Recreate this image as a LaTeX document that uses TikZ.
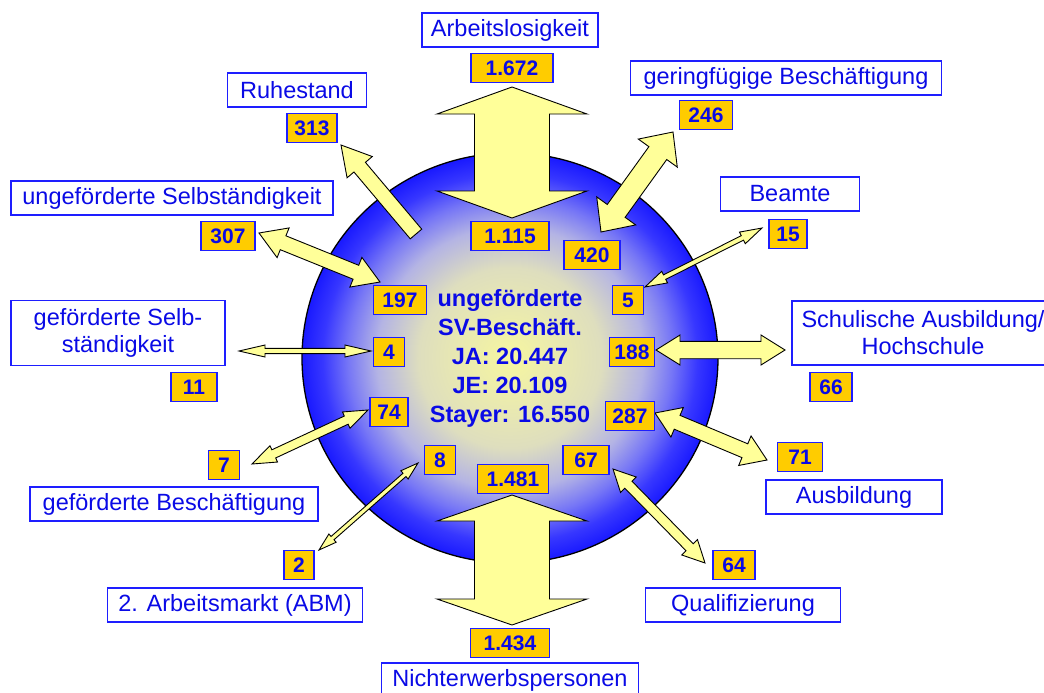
\documentclass[tikz,border=0pt]{standalone}
\usepackage{fontspec}
\setmainfont{Liberation Sans}
\usetikzlibrary{calc}

\definecolor{boxblue}{RGB}{30,30,255}
\definecolor{txtblue}{RGB}{10,10,230}
\definecolor{numorange}{RGB}{255,204,0}
\definecolor{flowyellow}{RGB}{255,255,153}
\definecolor{orbA}{RGB}{246,246,160}
\definecolor{orbB}{RGB}{222,222,190}
\definecolor{orbC}{RGB}{180,180,228}
\definecolor{orbD}{RGB}{118,118,246}
\definecolor{orbE}{RGB}{55,55,255}
\definecolor{orbF}{RGB}{25,25,255}
\pgfdeclareradialshading{orb}{\pgfpoint{0bp}{0bp}}{color(0bp)=(orbA); color(11bp)=(orbB); color(16bp)=(orbC); color(19.5bp)=(orbD); color(22.5bp)=(orbE); color(25bp)=(orbF); color(50bp)=(orbF)}

% #1,#2 tips, #3 half shaft, #4 half head, #5 head length
\newcommand\fatdouble[5]{%
  \draw[flow] (#1)
    -- ($(#1)!#5!(#2)!#4!90:(#2)$) -- ($(#1)!#5!(#2)!#3!90:(#2)$)
    -- ($(#2)!#5!(#1)!#3!-90:(#1)$) -- ($(#2)!#5!(#1)!#4!-90:(#1)$)
    -- (#2)
    -- ($(#2)!#5!(#1)!#4!90:(#1)$) -- ($(#2)!#5!(#1)!#3!90:(#1)$)
    -- ($(#1)!#5!(#2)!#3!-90:(#2)$) -- ($(#1)!#5!(#2)!#4!-90:(#2)$)
    -- cycle;}
% #1 tail, #2 tip
\newcommand\fatsingle[5]{%
  \draw[flow] ($(#1)!#3!90:(#2)$)
    -- ($(#2)!#5!(#1)!#3!-90:(#1)$) -- ($(#2)!#5!(#1)!#4!-90:(#1)$)
    -- (#2)
    -- ($(#2)!#5!(#1)!#4!90:(#1)$) -- ($(#2)!#5!(#1)!#3!90:(#1)$)
    -- ($(#1)!#3!-90:(#2)$) -- cycle;}

\tikzset{
  flow/.style={draw=black, fill=flowyellow, line width=0.9pt, line join=miter},
  lbl/.style={draw=boxblue, line width=1.5pt, fill=white, text=txtblue,
    font=\fontsize{23.5}{27}\selectfont, minimum height=34, inner sep=0pt,
    minimum width=#1, align=center},
  num/.style={draw=boxblue, line width=1.5pt, fill=numorange, text=txtblue,
    font=\bfseries\fontsize{21}{24}\selectfont, minimum height=29, inner sep=0pt,
    minimum width=#1}
}

\begin{document}
\begin{tikzpicture}[x={(1pt,0pt)}, y={(0pt,-1pt)}]
\useasboundingbox (0,0) rectangle (1044,693);

% kugel
\shade[shading=orb] (510,358) ellipse [x radius=208, y radius=205];
\draw[line width=1.3pt] (510,358) ellipse [x radius=208, y radius=205];

% pfeilenden
\coordinate (al-a) at (512,87);  \coordinate (al-b) at (512,218);
\coordinate (ne-a) at (512,495); \coordinate (ne-b) at (512,625);
\coordinate (ru-a) at (416,234); \coordinate (ru-b) at (341,145);
\coordinate (us-a) at (259,233); \coordinate (us-b) at (380,282);
\coordinate (ge-a) at (673,132); \coordinate (ge-b) at (601,232);
\coordinate (be-a) at (762,228); \coordinate (be-b) at (645,287);
\coordinate (gs-a) at (239,351); \coordinate (gs-b) at (371,351);
\coordinate (sc-a) at (656,350); \coordinate (sc-b) at (785,350);
\coordinate (gb-a) at (252,464); \coordinate (gb-b) at (368,410);
\coordinate (ab-a) at (319,550); \coordinate (ab-b) at (418,463);
\coordinate (au-a) at (655,413); \coordinate (au-b) at (767,460);
\coordinate (qu-a) at (613,469); \coordinate (qu-b) at (705,563);

\fatdouble{al-a}{al-b}{37.5pt}{75pt}{27pt}
\fatdouble{ne-a}{ne-b}{37.5pt}{75pt}{26pt}
\fatsingle{ru-a}{ru-b}{7.5pt}{16.5pt}{29pt}
\fatdouble{us-a}{us-b}{7.5pt}{16pt}{26pt}
\fatdouble{ge-a}{ge-b}{11pt}{24pt}{26pt}
\fatdouble{be-a}{be-b}{2.5pt}{6.5pt}{22pt}
\fatdouble{gs-a}{gs-b}{2.6pt}{6pt}{26pt}
\fatdouble{sc-a}{sc-b}{8.7pt}{15pt}{24pt}
\fatdouble{gb-a}{gb-b}{4.5pt}{9pt}{24pt}
\fatdouble{ab-a}{ab-b}{2.2pt}{5.5pt}{18pt}
\fatdouble{au-a}{au-b}{7.5pt}{16pt}{24pt}
\fatdouble{qu-a}{qu-b}{5pt}{11pt}{22pt}

% mitte
\node[text=txtblue, font=\bfseries\fontsize{23.5}{29}\selectfont, align=center]
  (stock) at (510,358) {ungeförderte\\SV-Beschäft.\\JA: 20.447\\JE: 20.109\\Stayer: 16.550};

% labels
\node[lbl=176] (arbeit) at (510,30) {Arbeitslosigkeit};
\node[lbl=139] (ruhe) at (297,90) {Ruhestand};
\node[lbl=322] (uselb) at (172,198) {ungeförderte Selbständigkeit};
\node[lbl=311] (gering) at (786,78) {geringfügige Beschäftigung};
\node[lbl=139] (beamte) at (790,194) {Beamte};
\node[lbl=214, minimum height=65] (gselb) at (118,333) {geförderte Selb-\\ständigkeit};
\node[lbl=262, minimum height=64] (schul) at (923,333) {Schulische Ausbildung/\\Hochschule};
\node[lbl=288] (gbesch) at (174,504) {geförderte Beschäftigung};
\node[lbl=176] (ausb) at (854,497) {Ausbildung};
\node[lbl=255] (abm) at (235,605) {2. Arbeitsmarkt (ABM)};
\node[lbl=195] (quali) at (743,605) {Qualifizierung};
\node[lbl=257] (nicht) at (510,680) {Nichterwerbspersonen};

% zahlen
\node[num=82] (n1672) at (512,68) {1.672};
\node[num=50] (n313) at (312,128) {313};
\node[num=54] (n307) at (228,236) {307};
\node[num=53] (n246) at (706,115) {246};
\node[num=38] (n15) at (788,234) {15};
\node[num=78] (n1115) at (510,236) {1.115};
\node[num=56] (n420) at (592,255) {420};
\node[num=53] (n197) at (400,300) {197};
\node[num=31] (n5) at (628,300) {5};
\node[num=31] (n4) at (389,352) {4};
\node[num=46] (n11) at (194,387) {11};
\node[num=45] (n188) at (632,352) {188};
\node[num=42] (n66) at (831,387) {66};
\node[num=38] (n74) at (389,412) {74};
\node[num=49] (n287) at (630,416) {287};
\node[num=31] (n7) at (224,465) {7};
\node[num=45] (n71) at (800,457) {71};
\node[num=31] (n8) at (440,460) {8};
\node[num=46] (n67) at (586,460) {67};
\node[num=71] (n1481) at (513,479) {1.481};
\node[num=30] (n2) at (299,565) {2};
\node[num=42] (n64) at (734,565) {64};
\node[num=79] (n1434) at (510,643) {1.434};
\end{tikzpicture}
\end{document}
